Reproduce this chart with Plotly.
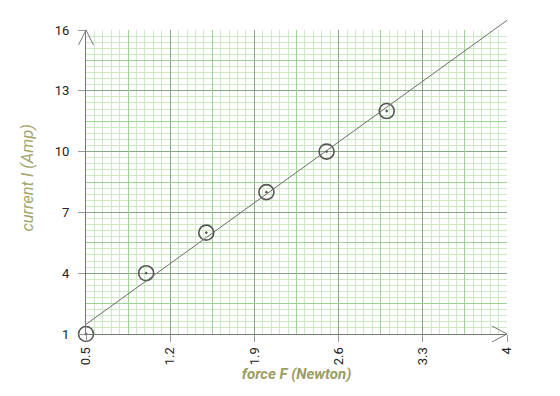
import numpy as np
import plotly.graph_objects as go

# ---- data ----
force = [0.5, 1.0, 1.5, 2.0, 2.5, 3.0]
current = [1, 4, 6, 8, 10, 12]
x_tick_vals = [0.5, 1.2, 1.9, 2.6, 3.3, 4.0]
x_tick_text = ["0.5", "1.2", "1.9", "2.6", "3.3", "4"]
y_tick_vals = [1, 4, 7, 10, 13, 16]
y_tick_text = ["1", "4", "7", "10", "13", "16"]
x_mid_vals = [0.85, 1.55, 2.25, 2.95, 3.65]
y_mid_vals = [2.5, 5.5, 8.5, 11.5, 14.5]
X_MIN, X_MAX = 0.5, 4.0
Y_MIN, Y_MAX = 1, 16

# regression line
slope, intercept = np.polyfit(force, current, 1)
fit_x = [X_MIN, X_MAX]
fit_y = [slope * v + intercept for v in fit_x]

LIGHT = "#cdeac5"
MID = "#9fd295"
DARK = "#86a886"
AXIS = "#777777"
TITLE_COL = "#9c9c63"

W, H = 560, 396
ML, MR, MT, MB = 86, 53, 14, 62
plot_h = H - MT - MB
main_top = (plot_h - 16) / plot_h  # main plot top 16px below y3 top
y3_max = Y_MIN + (Y_MAX - Y_MIN) / main_top

fig = go.Figure()

# dummy trace to create overlay grid subplot
fig.add_trace(go.Scatter(x=[], y=[], xaxis="x2", yaxis="y2", showlegend=False))

# regression line on extended subplot (so it can run past the top)
fig.add_trace(go.Scatter(
    x=fit_x, y=fit_y, mode="lines", xaxis="x3", yaxis="y3",
    line=dict(color="#6e6e6e", width=1), showlegend=False, hoverinfo="skip"))

# data points
fig.add_trace(go.Scatter(
    x=force, y=current, mode="markers", cliponaxis=False,
    marker=dict(symbol="circle-open-dot", size=15, color="#555555",
                line=dict(width=1.6, color="#555555")),
    showlegend=False))

font_t = dict(family="Roboto", size=13, color="#222222")

fig.update_layout(
    width=W, height=H,
    margin=dict(l=ML, r=MR, t=MT, b=MB, autoexpand=False),
    paper_bgcolor="white", plot_bgcolor="rgba(0,0,0,0)",
    xaxis=dict(
        range=[X_MIN, X_MAX], domain=[0, 1], automargin=False,
        tickmode="array", tickvals=x_tick_vals, ticktext=x_tick_text,
        tickangle=-90, tickfont=font_t,
        ticks="outside", ticklen=7, tickcolor="#999999",
        showgrid=True, gridcolor=DARK, gridwidth=1,
        minor=dict(dtick=0.07, tick0=X_MIN, showgrid=True, gridcolor=LIGHT, ticks=""),
        showline=True, linecolor=AXIS, linewidth=1,
        zeroline=False,
        title=dict(text="<b><i>force F (Newton)</i></b>",
                   font=dict(family="Roboto", size=15, color=TITLE_COL), standoff=4),
        anchor="y",
    ),
    yaxis=dict(
        range=[Y_MIN, Y_MAX], domain=[0, main_top], automargin=False,
        tickmode="array", tickvals=y_tick_vals, ticktext=y_tick_text,
        tickfont=font_t, ticklabelstandoff=6,
        ticks="outside", ticklen=7, tickcolor="#999999",
        showgrid=True, gridcolor=DARK, gridwidth=1,
        minor=dict(dtick=0.3, tick0=Y_MIN, showgrid=True, gridcolor=LIGHT, ticks=""),
        showline=True, linecolor=AXIS, linewidth=1,
        zeroline=False,
        title=dict(text="&nbsp;&nbsp;<i>current I (Amp)</i>",
                   font=dict(family="Roboto", size=16.5, color="#a4a66c"), standoff=17),
        anchor="x",
    ),
    xaxis2=dict(
        range=[X_MIN, X_MAX], overlaying="x", anchor="y2",
        tickmode="array", tickvals=x_mid_vals, showticklabels=False, ticks="",
        showgrid=True, gridcolor=MID, gridwidth=1, zeroline=False, showline=False,
    ),
    yaxis2=dict(
        range=[Y_MIN, Y_MAX], overlaying="y", anchor="x2",
        tickmode="array", tickvals=y_mid_vals, showticklabels=False, ticks="",
        showgrid=True, gridcolor=MID, gridwidth=1, zeroline=False, showline=False,
    ),
    xaxis3=dict(
        range=[X_MIN, X_MAX], domain=[0, 1], anchor="y3",
        visible=False, showgrid=False, zeroline=False,
    ),
    yaxis3=dict(
        range=[Y_MIN, y3_max], domain=[0, 1], anchor="x3",
        visible=False, showgrid=False, zeroline=False,
    ),
    shapes=[
        dict(type="path", xref="paper", yref="paper", xsizemode="pixel", ysizemode="pixel",
             xanchor=0, yanchor=main_top, path="M-7.5,-15 L0,0 L7.5,-15",
             line=dict(color=AXIS, width=1)),
        dict(type="path", xref="paper", yref="paper", xsizemode="pixel", ysizemode="pixel",
             xanchor=1, yanchor=0, path="M-15,8 L0,0 L-15,-8",
             line=dict(color=AXIS, width=1)),
    ],
)

fig.write_html("out.html")
